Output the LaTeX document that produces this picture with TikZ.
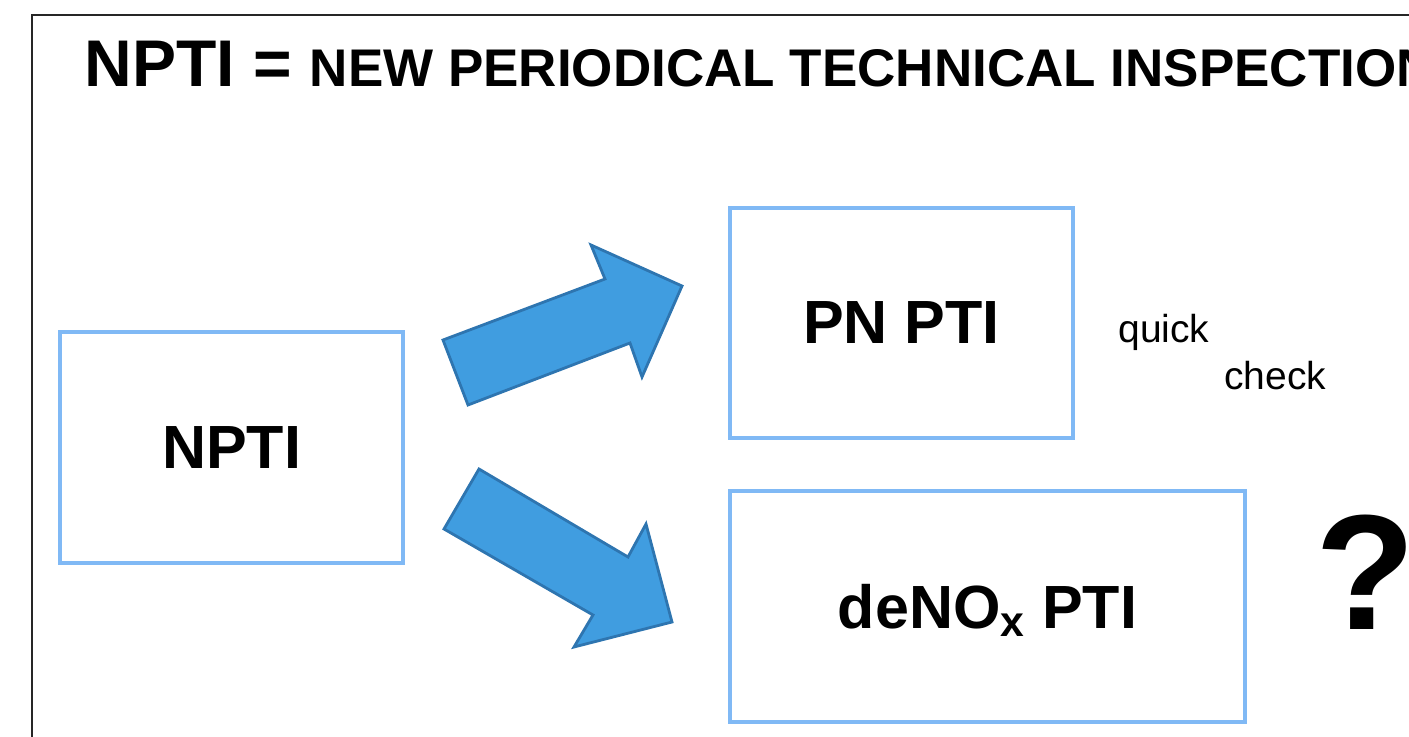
\documentclass[tikz,border=0pt]{standalone}
\usepackage{fontspec}
\setmainfont{Liberation Sans}
\definecolor{boxblue}{RGB}{128,185,245}
\definecolor{arrowfill}{RGB}{64,157,224}
\definecolor{arrowline}{RGB}{46,117,176}
\begin{document}
\begin{tikzpicture}[x=0.5pt,y=-0.5pt,
	ptibox/.style={draw=boxblue,line width=2pt,inner sep=0pt,font=\fontsize{30.5}{36}\selectfont\bfseries},
	blockarrow/.style={fill=arrowfill,draw=arrowline,line width=1.4pt,line join=miter}]
	\useasboundingbox (0,0) rectangle (1409,737);
	\clip (0,0) rectangle (1409,737);
	\draw[line width=1pt,black!85] (32,760) -- (32,15) -- (1440,15);
	\node[anchor=base west,inner sep=0pt,font=\fontsize{33}{40}\selectfont\bfseries] (title) at (84,87) {NPTI = {\fontsize{26.5}{32}\selectfont NEW PERIODICAL TECHNICAL INSPECTION}};
	\node[ptibox,minimum width=171.5pt,minimum height=115.5pt] (npti) at (231.5,447.5) {NPTI};
	\node[ptibox,minimum width=171.5pt,minimum height=115pt] (pn) at (901.5,323) {PN PTI};
	\node[ptibox,minimum width=257.5pt,minimum height=115.5pt,text depth=0pt] (denox) at (987.5,606.5) {deNO\textsubscript{x} PTI};
	\node[anchor=base west,inner sep=0pt,font=\fontsize{19.5}{24}\selectfont] (quick) at (1118,343) {quick};
	\node[anchor=base west,inner sep=0pt,font=\fontsize{19.5}{24}\selectfont] (check) at (1224,390) {check};
	\node[anchor=base west,inner sep=0pt,font=\fontsize{82}{96}\selectfont\bfseries] (qmark) at (1315,630) {?};
	\draw[blockarrow] (468,405) -- (443,340) -- (605,279) -- (591,245) -- (682,286) -- (642,377) -- (630,343) -- cycle;
	\draw[blockarrow] (479,469) -- (444,529) -- (593,615) -- (574,647) -- (672,622) -- (646,524) -- (628,557) -- cycle;
\end{tikzpicture}
\end{document}
